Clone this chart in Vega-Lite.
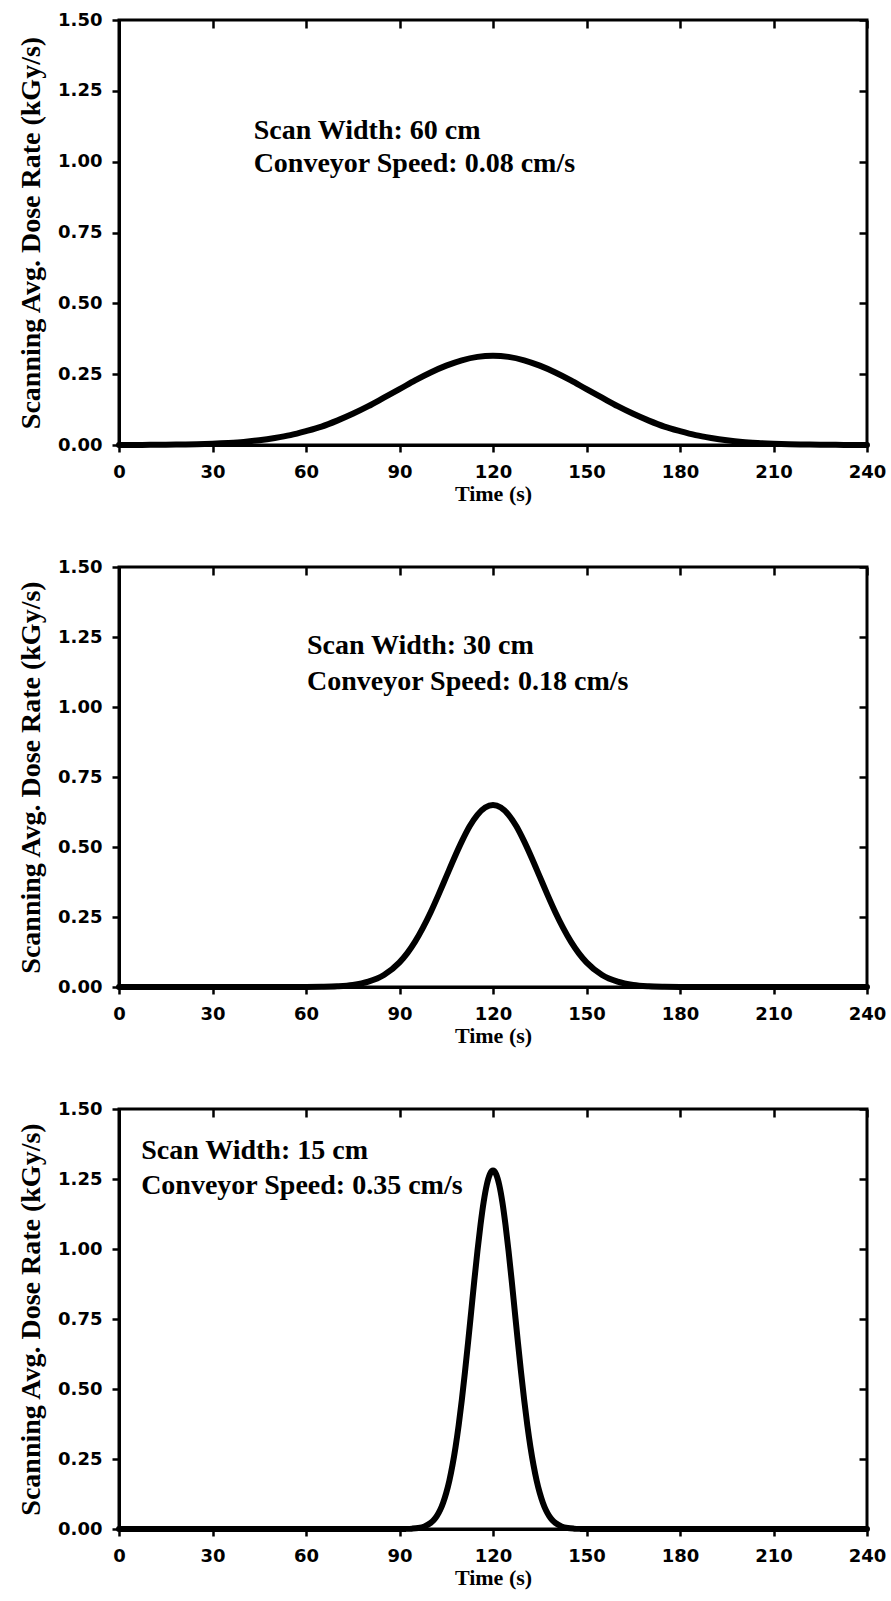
{
  "$schema": "https://vega.github.io/schema/vega-lite/v6.json",
  "background": "white",
  "padding": {"left": 16, "top": 9, "right": 5, "bottom": 0},
  "spacing": 50,
  "config": {
    "view": {"stroke": "black", "strokeWidth": 3},
    "axis": {"grid": false, "domainColor": "black", "domainWidth": 3, "tickColor": "black", "tickWidth": 2.5, "tickSize": 7, "labelColor": "black", "titleColor": "black", "labelFont": "DejaVu Sans", "labelFontWeight": "bold", "labelFontSize": 18, "labelFlush": false, "labelOverlap": false, "titleFont": "Liberation Serif", "titleFontWeight": "bold"},
    "line": {"color": "black", "strokeWidth": 6, "interpolate": "monotone", "strokeJoin": "round", "strokeCap": "round"},
    "text": {"font": "Liberation Serif", "fontWeight": "bold", "fontSize": 28, "align": "left", "baseline": "alphabetic", "color": "black"}
  },
  "datasets": {
    "p1": [
      {"t": 0, "rate": 0.0001}, {"t": 5, "rate": 0.0003}, {"t": 10, "rate": 0.0006}, {"t": 15, "rate": 0.001}, {"t": 20, "rate": 0.0017}, {"t": 25, "rate": 0.0029}, {"t": 30, "rate": 0.0047}, {"t": 35, "rate": 0.0073}, {"t": 40, "rate": 0.011}, {"t": 45, "rate": 0.017}, {"t": 50, "rate": 0.025}, {"t": 55, "rate": 0.035}, {"t": 60, "rate": 0.049}, {"t": 65, "rate": 0.065}, {"t": 70, "rate": 0.086}, {"t": 75, "rate": 0.110}, {"t": 80, "rate": 0.137}, {"t": 85, "rate": 0.167}, {"t": 90, "rate": 0.197}, {"t": 95, "rate": 0.228}, {"t": 100, "rate": 0.256}, {"t": 105, "rate": 0.280}, {"t": 110, "rate": 0.299}, {"t": 115, "rate": 0.311}, {"t": 120, "rate": 0.315},
      {"t": 125, "rate": 0.311}, {"t": 130, "rate": 0.299}, {"t": 135, "rate": 0.280}, {"t": 140, "rate": 0.256}, {"t": 145, "rate": 0.228}, {"t": 150, "rate": 0.197}, {"t": 155, "rate": 0.167}, {"t": 160, "rate": 0.137}, {"t": 165, "rate": 0.110}, {"t": 170, "rate": 0.086}, {"t": 175, "rate": 0.065}, {"t": 180, "rate": 0.049}, {"t": 185, "rate": 0.035}, {"t": 190, "rate": 0.025}, {"t": 195, "rate": 0.017}, {"t": 200, "rate": 0.011}, {"t": 205, "rate": 0.0073}, {"t": 210, "rate": 0.0047}, {"t": 215, "rate": 0.0029}, {"t": 220, "rate": 0.0017}, {"t": 225, "rate": 0.001}, {"t": 230, "rate": 0.0006}, {"t": 235, "rate": 0.0003}, {"t": 240, "rate": 0.0001}
    ],
    "p2": [
      {"t": 0, "rate": 0}, {"t": 30, "rate": 0}, {"t": 60, "rate": 0.0002}, {"t": 65, "rate": 0.0008}, {"t": 70, "rate": 0.0025}, {"t": 75, "rate": 0.0072}, {"t": 80, "rate": 0.019}, {"t": 85, "rate": 0.043}, {"t": 90, "rate": 0.088}, {"t": 92.5, "rate": 0.121}, {"t": 95, "rate": 0.162}, {"t": 97.5, "rate": 0.211}, {"t": 100, "rate": 0.267}, {"t": 102.5, "rate": 0.329}, {"t": 105, "rate": 0.394}, {"t": 107.5, "rate": 0.459}, {"t": 110, "rate": 0.52}, {"t": 112.5, "rate": 0.574}, {"t": 115, "rate": 0.615}, {"t": 117.5, "rate": 0.641}, {"t": 120, "rate": 0.65},
      {"t": 122.5, "rate": 0.641}, {"t": 125, "rate": 0.615}, {"t": 127.5, "rate": 0.574}, {"t": 130, "rate": 0.52}, {"t": 132.5, "rate": 0.459}, {"t": 135, "rate": 0.394}, {"t": 137.5, "rate": 0.329}, {"t": 140, "rate": 0.267}, {"t": 142.5, "rate": 0.211}, {"t": 145, "rate": 0.162}, {"t": 147.5, "rate": 0.121}, {"t": 150, "rate": 0.088}, {"t": 155, "rate": 0.043}, {"t": 160, "rate": 0.019}, {"t": 165, "rate": 0.0072}, {"t": 170, "rate": 0.0025}, {"t": 175, "rate": 0.0008}, {"t": 180, "rate": 0.0002}, {"t": 210, "rate": 0}, {"t": 240, "rate": 0}
    ],
    "p3": [
      {"t": 0, "rate": 0}, {"t": 60, "rate": 0}, {"t": 90, "rate": 0.0001}, {"t": 92, "rate": 0.0004}, {"t": 94, "rate": 0.0013}, {"t": 96, "rate": 0.0036}, {"t": 98, "rate": 0.0092}, {"t": 100, "rate": 0.0216}, {"t": 101, "rate": 0.032}, {"t": 102, "rate": 0.047}, {"t": 103, "rate": 0.067}, {"t": 104, "rate": 0.094}, {"t": 105, "rate": 0.129}, {"t": 106, "rate": 0.173}, {"t": 107, "rate": 0.228}, {"t": 108, "rate": 0.294}, {"t": 109, "rate": 0.372}, {"t": 110, "rate": 0.461}, {"t": 111, "rate": 0.56}, {"t": 112, "rate": 0.666}, {"t": 113, "rate": 0.776}, {"t": 114, "rate": 0.887}, {"t": 115, "rate": 0.992}, {"t": 116, "rate": 1.087}, {"t": 117, "rate": 1.168}, {"t": 118, "rate": 1.229}, {"t": 119, "rate": 1.267}, {"t": 120, "rate": 1.28},
      {"t": 121, "rate": 1.267}, {"t": 122, "rate": 1.229}, {"t": 123, "rate": 1.168}, {"t": 124, "rate": 1.087}, {"t": 125, "rate": 0.992}, {"t": 126, "rate": 0.887}, {"t": 127, "rate": 0.776}, {"t": 128, "rate": 0.666}, {"t": 129, "rate": 0.56}, {"t": 130, "rate": 0.461}, {"t": 131, "rate": 0.372}, {"t": 132, "rate": 0.294}, {"t": 133, "rate": 0.228}, {"t": 134, "rate": 0.173}, {"t": 135, "rate": 0.129}, {"t": 136, "rate": 0.094}, {"t": 137, "rate": 0.067}, {"t": 138, "rate": 0.047}, {"t": 139, "rate": 0.032}, {"t": 140, "rate": 0.0216}, {"t": 142, "rate": 0.0092}, {"t": 144, "rate": 0.0036}, {"t": 146, "rate": 0.0013}, {"t": 148, "rate": 0.0004}, {"t": 150, "rate": 0.0001}, {"t": 180, "rate": 0}, {"t": 240, "rate": 0}
    ],
    "a1": [
      {"t": 43.2, "rate": 1.08, "label": "Scan Width: 60 cm"},
      {"t": 43.2, "rate": 0.965, "label": "Conveyor Speed: 0.08 cm/s"}
    ],
    "a2": [
      {"t": 60.3, "rate": 1.19, "label": "Scan Width: 30 cm"},
      {"t": 60.3, "rate": 1.062, "label": "Conveyor Speed: 0.18 cm/s"}
    ],
    "a3": [
      {"t": 7.1, "rate": 1.32, "label": "Scan Width: 15 cm"},
      {"t": 7.1, "rate": 1.198, "label": "Conveyor Speed: 0.35 cm/s"}
    ]
  },
  "vconcat": [
    {
      "width": 748, "height": 425,
      "resolve": {"axis": {"x": "independent", "y": "independent"}},
      "layer": [
        {
          "data": {"name": "p1"},
          "mark": {"type": "line"},
          "encoding": {
            "x": {"field": "t", "type": "quantitative", "scale": {"domain": [0, 240], "nice": false, "zero": false}, "axis": {"orient": "bottom", "values": [0, 30, 60, 90, 120, 150, 180, 210, 240], "labelPadding": 11, "title": "Time (s)", "titleFontSize": 22, "titlePadding": 2}},
            "y": {"field": "rate", "type": "quantitative", "scale": {"domain": [0, 1.5], "nice": false}, "axis": {"orient": "left", "values": [0, 0.25, 0.5, 0.75, 1, 1.25, 1.5], "format": ".2f", "labelPadding": 10, "title": "Scanning Avg. Dose Rate (kGy/s)", "titleFontSize": 28, "titlePadding": 12}}
          }
        },
        {
          "data": {"name": "a1"},
          "mark": {"type": "text"},
          "encoding": {
            "x": {"field": "t", "type": "quantitative", "axis": {"orient": "top", "values": [0, 30, 60, 90, 120, 150, 180, 210, 240], "labels": false, "title": null, "domain": false, "tickSize": 8, "offset": -8}},
            "y": {"field": "rate", "type": "quantitative", "axis": {"orient": "right", "values": [0, 0.25, 0.5, 0.75, 1, 1.25, 1.5], "labels": false, "title": null, "domain": false, "tickSize": 8, "offset": -8}},
            "text": {"field": "label"}
          }
        }
      ]
    },
    {
      "width": 748, "height": 420,
      "resolve": {"axis": {"x": "independent", "y": "independent"}},
      "layer": [
        {
          "data": {"name": "p2"},
          "mark": {"type": "line"},
          "encoding": {
            "x": {"field": "t", "type": "quantitative", "scale": {"domain": [0, 240], "nice": false, "zero": false}, "axis": {"orient": "bottom", "values": [0, 30, 60, 90, 120, 150, 180, 210, 240], "labelPadding": 11, "title": "Time (s)", "titleFontSize": 22, "titlePadding": 2}},
            "y": {"field": "rate", "type": "quantitative", "scale": {"domain": [0, 1.5], "nice": false}, "axis": {"orient": "left", "values": [0, 0.25, 0.5, 0.75, 1, 1.25, 1.5], "format": ".2f", "labelPadding": 10, "title": "Scanning Avg. Dose Rate (kGy/s)", "titleFontSize": 28, "titlePadding": 12}}
          }
        },
        {
          "data": {"name": "a2"},
          "mark": {"type": "text"},
          "encoding": {
            "x": {"field": "t", "type": "quantitative", "axis": {"orient": "top", "values": [0, 30, 60, 90, 120, 150, 180, 210, 240], "labels": false, "title": null, "domain": false, "tickSize": 8, "offset": -8}},
            "y": {"field": "rate", "type": "quantitative", "axis": {"orient": "right", "values": [0, 0.25, 0.5, 0.75, 1, 1.25, 1.5], "labels": false, "title": null, "domain": false, "tickSize": 8, "offset": -8}},
            "text": {"field": "label"}
          }
        }
      ]
    },
    {
      "width": 748, "height": 420,
      "resolve": {"axis": {"x": "independent", "y": "independent"}},
      "layer": [
        {
          "data": {"name": "p3"},
          "mark": {"type": "line"},
          "encoding": {
            "x": {"field": "t", "type": "quantitative", "scale": {"domain": [0, 240], "nice": false, "zero": false}, "axis": {"orient": "bottom", "values": [0, 30, 60, 90, 120, 150, 180, 210, 240], "labelPadding": 11, "title": "Time (s)", "titleFontSize": 22, "titlePadding": 2}},
            "y": {"field": "rate", "type": "quantitative", "scale": {"domain": [0, 1.5], "nice": false}, "axis": {"orient": "left", "values": [0, 0.25, 0.5, 0.75, 1, 1.25, 1.5], "format": ".2f", "labelPadding": 10, "title": "Scanning Avg. Dose Rate (kGy/s)", "titleFontSize": 28, "titlePadding": 12}}
          }
        },
        {
          "data": {"name": "a3"},
          "mark": {"type": "text"},
          "encoding": {
            "x": {"field": "t", "type": "quantitative", "axis": {"orient": "top", "values": [0, 30, 60, 90, 120, 150, 180, 210, 240], "labels": false, "title": null, "domain": false, "tickSize": 8, "offset": -8}},
            "y": {"field": "rate", "type": "quantitative", "axis": {"orient": "right", "values": [0, 0.25, 0.5, 0.75, 1, 1.25, 1.5], "labels": false, "title": null, "domain": false, "tickSize": 8, "offset": -8}},
            "text": {"field": "label"}
          }
        }
      ]
    }
  ]
}
